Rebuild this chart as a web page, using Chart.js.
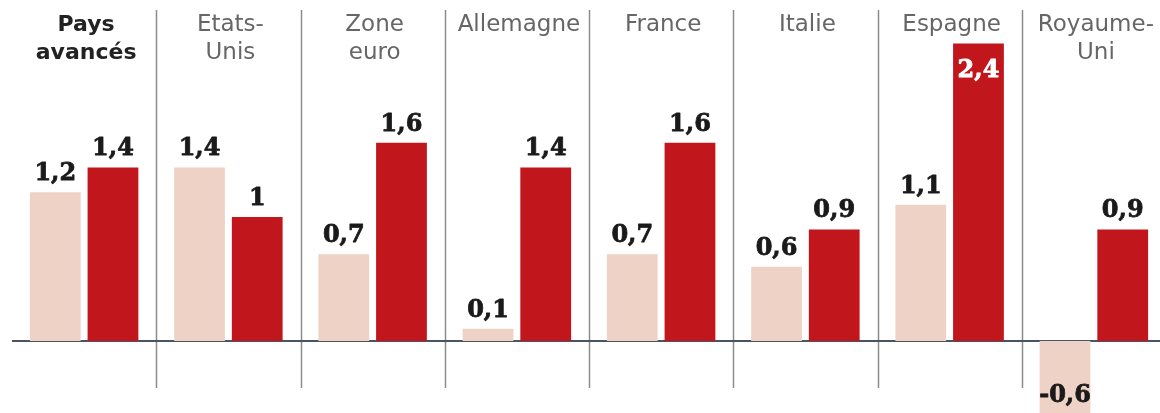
<!DOCTYPE html>
<html>
<head>
<meta charset="utf-8">
<script src="https://cdn.jsdelivr.net/npm/chart.js@4"></script>
<style>
  html, body { margin: 0; padding: 0; background: #fff; overflow: hidden; }
  canvas { display: block; }
</style>
</head>
<body>
<canvas id="chart" width="1166" height="413"></canvas>
<script>
// croissance du PIB, deux années par zone
const categories = [
  ['Pays', 'avancés'], ['Etats-', 'Unis'], ['Zone', 'euro'], ['Allemagne'],
  ['France'], ['Italie'], ['Espagne'], ['Royaume-', 'Uni']
];
const serieA = [1.2, 1.4, 0.7, 0.1, 0.7, 0.6, 1.1, -0.6];
const serieB = [1.4, 1.0, 1.6, 1.4, 1.6, 0.9, 2.4, 0.9];

const fmt = v => String(v).replace('.', ',');

const decor = {
  id: 'decor',
  beforeDatasetsDraw(chart) {
    const { ctx, chartArea, scales: { x, y } } = chart;
    const step = x.getPixelForValue(1) - x.getPixelForValue(0);
    ctx.save();
    // séparateurs verticaux
    ctx.strokeStyle = '#8c8c8c';
    ctx.lineWidth = 1.5;
    for (let i = 1; i < categories.length; i++) {
      const px = Math.round(x.getPixelForValue(i) - step / 2) + 0.5;
      ctx.beginPath();
      ctx.moveTo(px, 10);
      ctx.lineTo(px, 388);
      ctx.stroke();
    }
    // ligne du zéro
    const y0 = y.getPixelForValue(0);
    ctx.strokeStyle = '#4a5560';
    ctx.lineWidth = 2;
    ctx.beginPath();
    ctx.moveTo(chartArea.left, y0);
    ctx.lineTo(chartArea.right, y0);
    ctx.stroke();
    // noms des zones
    ctx.textAlign = 'center';
    ctx.textBaseline = 'alphabetic';
    categories.forEach((lines, i) => {
      const cx = x.getPixelForValue(i) + 2;
      if (i === 0) {
        ctx.font = 'bold 22px "DejaVu Sans"';
        ctx.fillStyle = '#222';
      } else {
        ctx.font = '23px "DejaVu Sans"';
        ctx.fillStyle = '#666';
      }
      lines.forEach((t, j) => ctx.fillText(t, cx, 31 + j * 28));
    });
    ctx.restore();
  },
  afterDatasetsDraw(chart) {
    const { ctx } = chart;
    ctx.save();
    ctx.font = 'bold 24px "DejaVu Serif"';
    ctx.textAlign = 'center';
    ctx.textBaseline = 'alphabetic';
    ctx.lineWidth = 0.8;
    ctx.lineJoin = 'round';
    chart.data.datasets.forEach((ds, di) => {
      chart.getDatasetMeta(di).data.forEach((bar, i) => {
        const v = ds.data[i];
        let ty, col = '#1a1a1a';
        if (v < 0) {
          ty = bar.y - 13;
        } else if (v >= 2) {
          ty = bar.y + 34;
          col = '#fff';
        } else {
          ty = bar.y - 12;
        }
        ctx.fillStyle = col;
        ctx.strokeStyle = col;
        ctx.fillText(fmt(v), bar.x, ty);
        ctx.strokeText(fmt(v), bar.x, ty);
      });
    });
    ctx.restore();
  }
};

new Chart(document.getElementById('chart'), {
  type: 'bar',
  data: {
    labels: categories.map(c => c.join(' ')),
    datasets: [
      { data: serieA, backgroundColor: '#eed2c5', categoryPercentage: 0.8, barPercentage: 0.88 },
      { data: serieB, backgroundColor: '#c0161c', categoryPercentage: 0.8, barPercentage: 0.88 }
    ]
  },
  options: {
    responsive: false,
    animation: false,
    layout: { padding: { left: 12, right: 0, top: 0, bottom: 0 } },
    plugins: { legend: { display: false }, tooltip: { enabled: false } },
    scales: {
      x: { display: false },
      y: { display: false, min: -0.58, max: 2.75 }
    }
  },
  plugins: [decor]
});
</script>
</body>
</html>
